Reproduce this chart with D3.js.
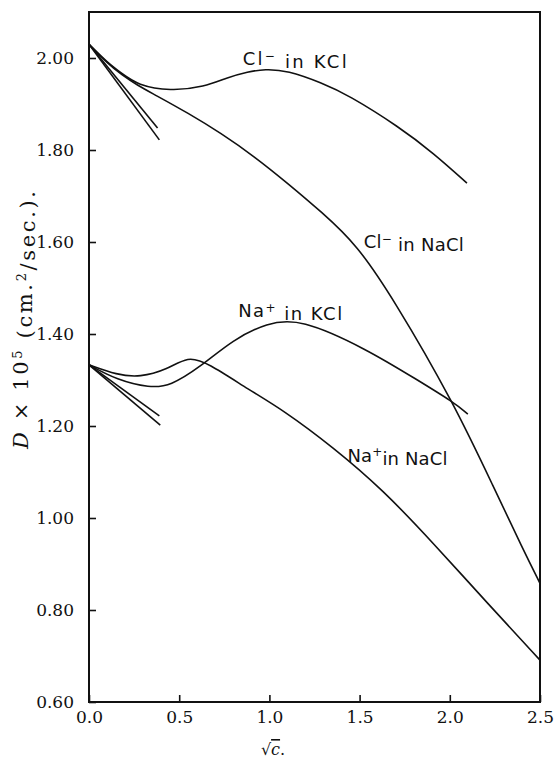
<!DOCTYPE html>
<html>
<head>
<meta charset="utf-8">
<script src="https://cdn.jsdelivr.net/npm/d3@7"></script>
<style>
  html, body { margin: 0; padding: 0; background: #fff; }
  svg { display: block; }
</style>
</head>
<body>
<script>
// ---- Data ----
const xTicks = [0.0, 0.5, 1.0, 1.5, 2.0, 2.5];
const yTicks = [0.60, 0.80, 1.00, 1.20, 1.40, 1.60, 1.80, 2.00];

const clKClX = [0, 0.105, 0.18, 0.27, 0.45, 0.64, 0.77, 0.88, 0.975, 1.10, 1.29, 1.435, 1.72, 1.91, 2.095];
const clKClY = [2.03, 1.989, 1.967, 1.941, 1.928, 1.937, 1.958, 1.970, 1.976, 1.973, 1.946, 1.920, 1.850, 1.793, 1.728];

const clNaClX = [0, 0.105, 0.18, 0.27, 0.366, 0.55, 0.73, 0.92, 1.10, 1.29, 1.485, 1.685, 2.02, 2.25, 2.406, 2.5];
const clNaClY = [2.03, 1.987, 1.964, 1.940, 1.920, 1.880, 1.837, 1.785, 1.728, 1.665, 1.594, 1.478, 1.252, 1.061, 0.932, 0.858];

const naKClX = [0, 0.155, 0.338, 0.45, 0.615, 0.80, 0.985, 1.17, 1.54, 1.82, 2.02, 2.10];
const naKClY = [1.333, 1.300, 1.283, 1.287, 1.328, 1.388, 1.424, 1.434, 1.367, 1.300, 1.252, 1.226];

const naNaClX = [0, 0.155, 0.283, 0.43, 0.55, 0.654, 0.89, 1.075, 1.353, 1.63, 1.907, 2.22, 2.5];
const naNaClY = [1.333, 1.311, 1.306, 1.322, 1.352, 1.338, 1.278, 1.235, 1.154, 1.061, 0.946, 0.810, 0.691];

// limiting-law tangent lines
const clLim1X = [0, 0.38], clLim1Y = [2.03, 1.848];
const clLim2X = [0, 0.39], clLim2Y = [2.03, 1.822];
const naLim1X = [0, 0.39], naLim1Y = [1.333, 1.222];
const naLim2X = [0, 0.395], naLim2Y = [1.333, 1.202];

const curveLabels = [
  { main: "Cl", sup: "\u2212", rest: " in KCl", x: 1.14, y: 1.985, len: 104 },
  { main: "Cl", sup: "\u2212", rest: " in NaCl", x: 1.80, y: 1.587, len: 100 },
  { main: "Na", sup: "+", rest: " in KCl", x: 1.115, y: 1.437, len: 104 },
  { main: "Na", sup: "+", rest: "in NaCl", x: 1.71, y: 1.122, len: 100 }
];

// ---- Layout ----
const W = 556, H = 759;
const margin = { left: 89, right: 16, top: 12, bottom: 57 };
const iw = W - margin.left - margin.right;
const ih = H - margin.top - margin.bottom;

const svg = d3.select("body").append("svg").attr("width", W).attr("height", H);
const g = svg.append("g").attr("transform", `translate(${margin.left},${margin.top})`);

const x = d3.scaleLinear().domain([0, 2.5]).range([0, iw]);
const y = d3.scaleLinear().domain([0.6, 2.1]).range([ih, 0]);

const serif = "'DejaVu Serif', 'Liberation Serif', serif";

// Axes
const yAxis = g.append("g")
  .call(d3.axisLeft(y).tickValues(yTicks).tickFormat(d3.format(".2f"))
    .tickSizeInner(-7).tickSizeOuter(0).tickPadding(15));
const xAxis = g.append("g").attr("transform", `translate(0,${ih})`)
  .call(d3.axisBottom(x).tickValues(xTicks).tickFormat(d3.format(".1f"))
    .tickSizeInner(-7).tickSizeOuter(0).tickPadding(9));
[yAxis, xAxis].forEach(a => {
  a.select(".domain").remove();
  a.selectAll("line").attr("stroke", "#111").attr("stroke-width", 1.6);
  a.selectAll("text").attr("fill", "#111").style("font-family", serif).style("font-size", "17px");
});

// Frame
g.append("rect").attr("x", 0).attr("y", 0).attr("width", iw).attr("height", ih)
  .attr("fill", "none").attr("stroke", "#111").attr("stroke-width", 2);

// Curves
const line = d3.line().x(d => x(d[0])).y(d => y(d[1])).curve(d3.curveBasis);
const straight = d3.line().x(d => x(d[0])).y(d => y(d[1]));
const series = [
  [clKClX, clKClY, line], [clNaClX, clNaClY, line],
  [naKClX, naKClY, line], [naNaClX, naNaClY, line],
  [clLim1X, clLim1Y, straight], [clLim2X, clLim2Y, straight],
  [naLim1X, naLim1Y, straight], [naLim2X, naLim2Y, straight]
];
series.forEach(([xs, ys, gen]) => {
  g.append("path").datum(xs.map((v, i) => [v, ys[i]]))
    .attr("d", gen).attr("fill", "none").attr("stroke", "#111")
    .attr("stroke-width", 1.6).attr("stroke-linejoin", "round");
});

// Curve labels
const sans = "'DejaVu Sans', 'Noto Sans', sans-serif";
curveLabels.forEach(l => {
  const t = g.append("text").attr("x", x(l.x)).attr("y", y(l.y))
    .attr("text-anchor", "middle").attr("fill", "#111")
    .attr("textLength", l.len).attr("lengthAdjust", "spacing")
    .style("font-family", sans).style("font-size", "18px");
  t.append("tspan").text(l.main);
  t.append("tspan").attr("dy", "-0.45em").style("font-size", "12px").text(l.sup);
  t.append("tspan").attr("dy", "0.45em").text(l.rest);
});

// Y axis title
const yt = svg.append("text")
  .attr("transform", `translate(28,320) rotate(-90)`)
  .attr("text-anchor", "middle").attr("fill", "#111")
  .attr("textLength", 258).attr("lengthAdjust", "spacing")
  .style("font-family", serif).style("font-size", "21px");
yt.append("tspan").style("font-style", "italic").text("D");
yt.append("tspan").text(" \u00d7 10");
yt.append("tspan").attr("dy", "-0.45em").style("font-size", "13px").text("5");
yt.append("tspan").attr("dy", "0.45em").text(" (cm.");
yt.append("tspan").attr("dy", "-0.45em").style("font-size", "13px").text("2");
yt.append("tspan").attr("dy", "0.45em").text("/sec.).");

// X axis title
const xt = svg.append("text")
  .attr("x", margin.left + x(1.02)).attr("y", 755)
  .attr("text-anchor", "middle").attr("fill", "#111")
  .style("font-family", serif).style("font-size", "16px");
xt.append("tspan").text("\u221a");
xt.append("tspan").style("font-style", "italic").style("text-decoration", "overline").text("c");
xt.append("tspan").text(".");
</script>
</body>
</html>
